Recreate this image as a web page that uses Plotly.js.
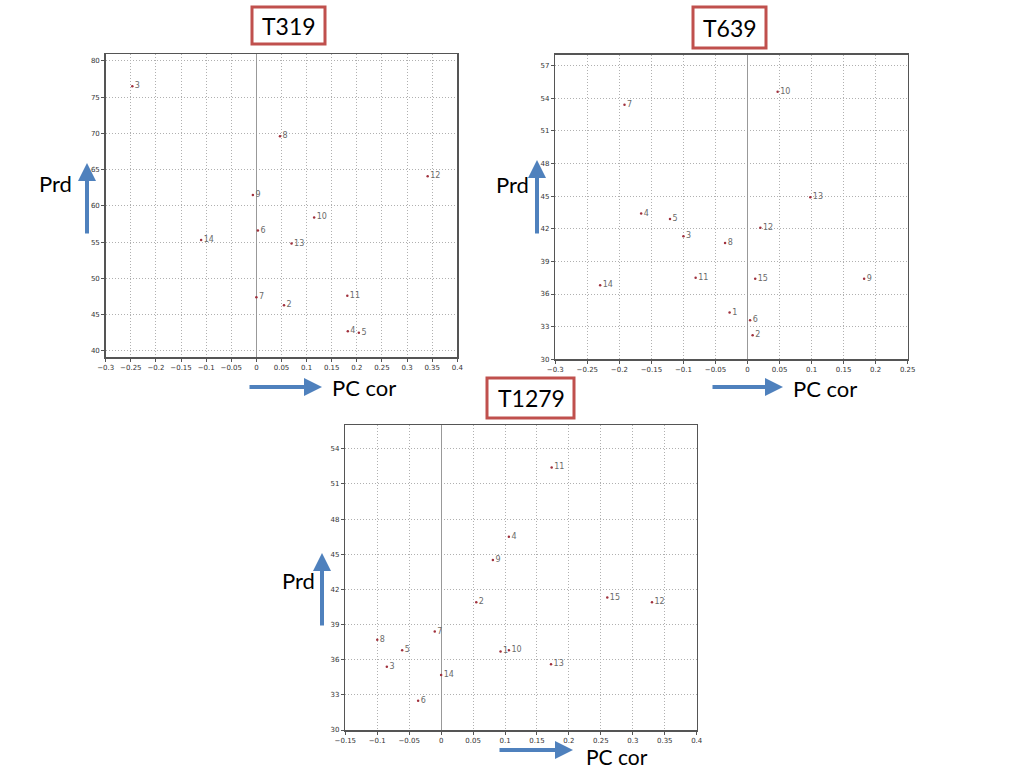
<!DOCTYPE html>
<html>
<head>
<meta charset="utf-8">
<script src="https://cdn.plot.ly/plotly-3.0.1.min.js"></script>
<style>html,body{margin:0;padding:0;background:#fff;}#chart{width:1024px;height:768px;}</style>
</head>
<body>
<div id="chart"></div>
<script>
// ---- data ----
const t319Labels = ["3","8","12","9","10","6","14","13","7","2","11","4","5"];
const t319X = [-0.247,0.047,0.341,-0.007,0.115,0.003,-0.110,0.070,0.000,0.055,0.181,0.182,0.204];
const t319Y = [76.5,69.6,64.1,61.5,58.4,56.6,55.3,54.8,47.4,46.3,47.6,42.7,42.5];

const t639Labels = ["10","7","13","4","5","3","12","8","11","15","9","14","1","6","2"];
const t639X = [0.047,-0.192,0.098,-0.166,-0.121,-0.100,0.020,-0.035,-0.081,0.012,0.182,-0.230,-0.028,0.004,0.008];
const t639Y = [54.6,53.4,44.9,43.4,42.9,41.3,42.1,40.7,37.5,37.4,37.4,36.8,34.3,33.6,32.2];

const t1279Labels = ["11","4","9","2","15","12","7","8","5","3","1","10","13","14","6"];
const t1279X = [0.173,0.106,0.081,0.055,0.260,0.330,-0.010,-0.100,-0.061,-0.085,0.093,0.106,0.172,0.000,-0.036];
const t1279Y = [52.4,46.5,44.5,40.9,41.3,40.9,38.4,37.7,36.8,35.4,36.7,36.8,35.6,34.7,32.5];

const panelTitles = ["T319","T639","T1279"];
const xAxisLabel = "PC cor";
const yAxisLabel = "Prd";

// ---- helpers ----
const W = 1024, H = 768;
const px = v => v / W;
const py = v => 1 - v / H;

function trace(x, y, labels, xa, ya) {
  return {
    type: "scatter", mode: "markers+text",
    x: x, y: y, text: labels,
    xaxis: xa, yaxis: ya,
    textposition: "middle right",
    textfont: {family: "DejaVu Sans", size: 8, color: "#6a6a6a"},
    marker: {size: 2.5, color: "#a0303c"},
    cliponaxis: false,
    hoverinfo: "skip", showlegend: false
  };
}

function xAxis(range, domain, anchor) {
  return {
    domain: domain, range: range, anchor: anchor,
    dtick: 0.05, tick0: 0,
    showgrid: true, gridcolor: "#b0b0b0", griddash: "1px,2px", gridwidth: 1,
    zeroline: true, zerolinecolor: "#999", zerolinewidth: 1,
    showline: true, mirror: true, linecolor: "#555", linewidth: 1.5,
    ticks: "outside", ticklen: 3, tickcolor: "#555",
    tickfont: {family: "DejaVu Sans", size: 7, color: "#333"},
    fixedrange: true
  };
}
function yAxis(range, domain, anchor, dtick, tick0) {
  return {
    domain: domain, range: range, anchor: anchor,
    dtick: dtick, tick0: tick0,
    showgrid: true, gridcolor: "#b0b0b0", griddash: "1px,2px", gridwidth: 1,
    zeroline: false,
    showline: true, mirror: true, linecolor: "#555", linewidth: 1.5,
    ticks: "outside", ticklen: 3, tickcolor: "#555",
    tickfont: {family: "DejaVu Sans", size: 7, color: "#333"},
    fixedrange: true
  };
}

const data = [
  trace(t319X, t319Y, t319Labels, "x", "y"),
  trace(t639X, t639Y, t639Labels, "x2", "y2"),
  trace(t1279X, t1279Y, t1279Labels, "x3", "y3")
];

const blue = "#4f81bd";
const textFont = {family: "Lato, 'Open Sans', sans-serif", size: 22, color: "#000"};

function titleBox(x0, y0, x1, y1) {
  return {type: "rect", xref: "paper", yref: "paper",
    x0: px(x0), x1: px(x1), y0: py(y1), y1: py(y0),
    line: {color: "#c0504d", width: 3}, fillcolor: "#fff", layer: "above"};
}
function label(text, cx, cy, size) {
  return {text: text, xref: "paper", yref: "paper", x: px(cx), y: py(cy),
    xanchor: "center", yanchor: "middle", showarrow: false,
    font: Object.assign({}, textFont, size ? {size: size} : {})};
}
function arrow(hx, hy, tx, ty) {
  return {text: "", xref: "paper", yref: "paper", x: px(hx), y: py(hy),
    axref: "pixel", ayref: "pixel", ax: tx - hx, ay: ty - hy,
    showarrow: true, arrowhead: 2, arrowsize: 0.9, arrowwidth: 4, arrowcolor: blue};
}

const layout = {
  width: W, height: H,
  margin: {l: 0, r: 0, t: 0, b: 0},
  paper_bgcolor: "#fff", plot_bgcolor: "#fff",
  showlegend: false,
  xaxis: xAxis([-0.3, 0.4], [px(105.7), px(457.3)], "y"),
  yaxis: yAxis([39.15, 80.95], [py(357), py(54)], "x", 5, 40),
  xaxis2: xAxis([-0.3, 0.25], [px(555.3), px(907.7)], "y2"),
  yaxis2: yAxis([30, 58], [py(359.3), py(54.7)], "x2", 3, 30),
  xaxis3: xAxis([-0.15, 0.4], [px(345.3), px(696.7)], "y3"),
  yaxis3: yAxis([30, 56], [py(730), py(425.3)], "x3", 3, 30),
  shapes: [
    titleBox(252, 7, 325, 44),
    titleBox(693, 7, 766, 48),
    titleBox(487, 378, 574, 418)
  ],
  annotations: [
    label(panelTitles[0], 289, 26, 23),
    label(panelTitles[1], 730, 28, 23),
    label(panelTitles[2], 531, 398, 23),
    label(yAxisLabel, 55, 183),
    label(yAxisLabel, 512, 185),
    label(yAxisLabel, 298, 580),
    label(xAxisLabel, 364, 387),
    label(xAxisLabel, 825, 388),
    label(xAxisLabel, 617, 756, 21),
    arrow(87, 163, 87, 235),
    arrow(537, 160, 537, 235),
    arrow(322, 553, 322, 627),
    arrow(322, 387, 248, 387),
    arrow(783, 387, 711, 387),
    arrow(573, 750, 498, 750)
  ]
};

Plotly.newPlot("chart", data, layout, {staticPlot: true, displayModeBar: false});
</script>
</body>
</html>
